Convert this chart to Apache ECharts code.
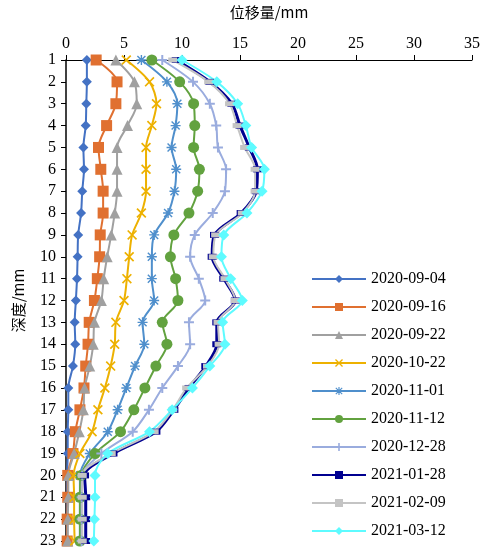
<!DOCTYPE html>
<html>
<head>
    <meta charset="utf-8">
    <title>位移量</title>
    <script src="https://cdn.jsdelivr.net/npm/echarts@6/dist/echarts.min.js"></script>
    <style>
        html, body { margin: 0; padding: 0; background: #fff; }
        #chart1 { width: 490px; height: 549px; }
    </style>
</head>
<body>
<div id="chart1"></div>
<script type="text/javascript">
    // 深度 1..23
    var depths = [1, 2, 3, 4, 5, 6, 7, 8, 9, 10, 11, 12, 13, 14, 15, 16, 17, 18, 19, 20, 21, 22, 23];
    var xTicks = [0, 5, 10, 15, 20, 25, 30, 35];
    var dates = ['2020-09-04', '2020-09-16', '2020-09-22', '2020-10-22', '2020-11-01',
        '2020-11-12', '2020-12-28', '2021-01-28', '2021-02-09', '2021-03-12'];

    var d0904 = [1.8, 1.8, 1.75, 1.7, 1.5, 1.55, 1.4, 1.3, 1.05, 1.0, 0.95, 0.85, 0.75, 0.8, 0.6, 0.2, 0.2, 0.15, 0.15, 0.1, 0.1, 0.1, 0.1];
    var d0916 = [2.6, 4.4, 4.3, 3.5, 2.8, 3.0, 3.2, 3.2, 2.95, 2.9, 2.7, 2.45, 2.0, 1.9, 1.7, 1.55, 1.2, 0.8, 0.6, 0.15, 0.15, 0.1, 0.1];
    var d0922 = [4.3, 5.9, 6.1, 5.3, 4.4, 4.4, 4.4, 4.2, 3.9, 3.55, 3.25, 3.05, 2.45, 2.35, 2.05, 1.6, 1.5, 1.15, 0.7, 0.2, 0.2, 0.15, 0.15];
    var d1022 = [5.2, 7.2, 7.8, 7.4, 6.9, 6.9, 6.9, 6.5, 5.7, 5.45, 5.25, 5.0, 4.3, 4.2, 3.85, 3.35, 2.75, 2.25, 1.2, 0.65, 0.7, 0.7, 0.75];
    var d1101 = [6.5, 8.7, 9.6, 9.45, 9.1, 9.5, 9.35, 8.8, 7.6, 7.4, 7.4, 7.6, 6.6, 6.75, 5.95, 5.2, 4.45, 3.6, 2.05, 1.2, 1.2, 1.2, 1.2];
    var d1112 = [7.4, 9.8, 11.0, 11.1, 11.0, 11.5, 11.35, 10.6, 9.3, 9.0, 9.45, 9.65, 8.3, 8.7, 7.75, 6.8, 5.85, 4.7, 2.5, 1.3, 1.2, 1.2, 1.2];
    var d1228 = [8.3, 10.95, 12.4, 12.95, 13.1, 13.8, 13.7, 12.65, 11.1, 10.7, 11.45, 12.0, 10.6, 10.7, 9.65, 8.3, 7.15, 5.75, 3.05, 1.4, 1.35, 1.35, 1.35];
    var d0128 = [9.5, 12.4, 14.3, 15.0, 15.8, 16.5, 16.4, 15.1, 12.8, 12.6, 13.6, 14.6, 13.0, 13.0, 12.05, 10.6, 9.3, 7.75, 4.05, 1.6, 1.7, 1.7, 1.7];
    var d0209 = [9.2, 12.3, 14.1, 14.75, 15.4, 16.3, 16.3, 15.2, 12.9, 12.7, 13.7, 14.6, 13.1, 13.2, 12.2, 10.4, 9.2, 7.6, 3.9, 1.4, 1.4, 1.4, 1.4];
    var d0312 = [10.0, 13.0, 14.8, 15.5, 16.0, 17.1, 16.9, 15.6, 13.6, 13.4, 14.2, 15.2, 13.5, 13.7, 12.4, 10.9, 9.15, 7.2, 3.6, 2.5, 2.5, 2.45, 2.4];

    var allData = [d0904, d0916, d0922, d1022, d1101, d1112, d1228, d0128, d0209, d0312];

    // 样式
    var colors = ['#4472C4', '#E07030', '#A0A0A0', '#EDB100', '#4F8FCC', '#62A23F', '#9AACDE', '#000090', '#C4C4C4', '#5EFBFF'];
    var plusPath = 'path://M4,0 H6 V4 H10 V6 H6 V10 H4 V6 H0 V4 H4 Z';
    var starPath = 'path://M4.3,0 H5.7 V4.3 H10 V5.7 H5.7 V10 H4.3 V5.7 H0 V4.3 H4.3 Z M1.5,0.5 L5,4 L8.5,0.5 L9.5,1.5 L6,5 L9.5,8.5 L8.5,9.5 L5,6 L1.5,9.5 L0.5,8.5 L4,5 L0.5,1.5 Z';
    var xPath = 'path://M1.2,0 L5,3.8 L8.8,0 L10,1.2 L6.2,5 L10,8.8 L8.8,10 L5,6.2 L1.2,10 L0,8.8 L3.8,5 L0,1.2 Z';
    var symbols = ['diamond', 'rect', 'triangle', xPath, starPath, 'circle', plusPath, 'rect', 'rect', 'diamond'];
    var sizes = [10, 11, 11, 10, 10, 11, 10, [9, 6], [9, 5], 11];
    var widths = [2, 2, 2, 2, 2, 2, 2, 3, 2, 2];

    var series = [];
    for (var i = 0; i < dates.length; i++) {
        var pts = [];
        for (var k = 0; k < depths.length; k++) {
            pts.push([allData[i][k], depths[k]]);
        }
        series.push({
            name: dates[i],
            type: 'line',
            data: pts,
            smooth: 0.3,
            symbol: symbols[i],
            symbolSize: sizes[i],
            showAllSymbol: true,
            lineStyle: {color: colors[i], width: widths[i]},
            itemStyle: {color: colors[i], borderWidth: 0},
            emphasis: {disabled: true}
        });
    }

    var myChart1 = echarts.init(document.getElementById('chart1'));
    myChart1.setOption({
        animation: false,
        textStyle: {fontFamily: 'Liberation Serif', color: '#000'},
        grid: {left: 66, right: 18, top: 58, bottom: 7, containLabel: false},
        legend: {
            orient: 'vertical',
            left: 306,
            top: 266,
            itemWidth: 54,
            itemHeight: 10,
            itemGap: 12,
            data: dates,
            textStyle: {fontFamily: 'Liberation Serif', fontSize: 16, color: '#000'}
        },
        xAxis: {
            type: 'value',
            position: 'top',
            min: xTicks[0],
            max: xTicks[xTicks.length - 1],
            interval: 5,
            name: '位移量/mm',
            nameLocation: 'middle',
            nameGap: 40,
            nameTextStyle: {fontFamily: 'Noto Sans CJK SC', fontSize: 15, color: '#000'},
            axisLine: {show: true, lineStyle: {color: '#000', width: 1}},
            axisTick: {show: true, inside: false, length: 5, lineStyle: {color: '#000'}},
            axisLabel: {fontSize: 16, color: '#000', margin: 8},
            splitLine: {show: false}
        },
        yAxis: {
            type: 'value',
            inverse: true,
            min: 1,
            max: 23,
            interval: 1,
            name: '深度/mm',
            nameLocation: 'middle',
            nameGap: 40,
            nameRotate: 90,
            nameTextStyle: {fontFamily: 'Noto Sans CJK SC', fontSize: 15, color: '#000'},
            axisLine: {show: true, lineStyle: {color: '#000', width: 1.5}},
            axisTick: {show: true, inside: false, length: 5, lineStyle: {color: '#000'}},
            axisLabel: {fontSize: 16, color: '#000', margin: 10},
            splitLine: {show: false}
        },
        series: series
    });
</script>
</body>
</html>
